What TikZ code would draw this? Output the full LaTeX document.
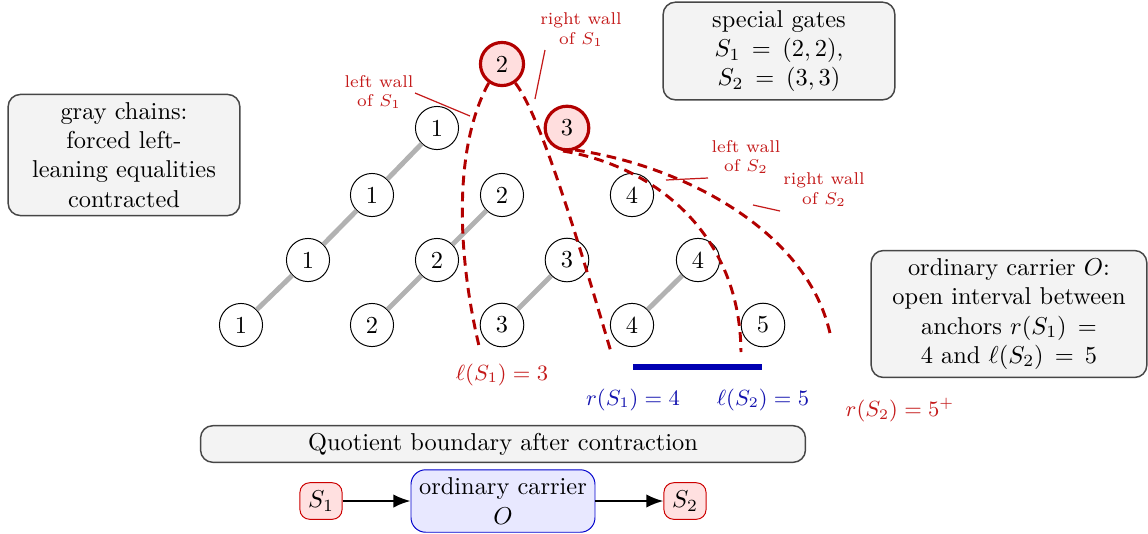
\documentclass[tikz,border=0pt]{standalone}
\usetikzlibrary{arrows.meta}
\definecolor{wallred}{RGB}{178,0,0}
\definecolor{labred}{RGB}{196,26,26}
\definecolor{labblue}{RGB}{20,20,175}
\definecolor{barblue}{RGB}{0,0,178}
\definecolor{boxgray}{RGB}{243,243,243}
\definecolor{boxline}{RGB}{70,70,70}
\begin{document}
\begin{tikzpicture}[x=0.41pt,y=-0.41pt,
  num/.style={circle,draw,fill=white},
  gate/.style={circle,draw=wallred,line width=1.3pt,fill=red!13},
  chain/.style={draw=gray!60,line width=2pt},
  wall/.style={draw=wallred,line width=1.2pt,dash pattern=on 4pt off 2.6pt},
  note/.style={font=\scriptsize,text=labred,align=center,inner sep=1pt},
  noteline/.style={draw=labred,line width=0.5pt},
  infobox/.style={draw=boxline,fill=boxgray,rounded corners=5pt,align=center,line width=0.6pt,inner xsep=7.5pt,inner ysep=3.3pt},
  redlab/.style={font=\small,text=labred},
  bluelab/.style={font=\small,text=labblue},
  flow/.style={draw=black,line width=0.9pt,-{Latex[length=7pt,width=5.5pt]}}
]
\useasboundingbox (0,0) rectangle (1148,533);

% circle nodes
\node[num] (b1) at (241,325) {1};
\node[num] (b2) at (372,325) {2};
\node[num] (b3) at (502,325) {3};
\node[num] (b4) at (632,325) {4};
\node[num] (b5) at (763,325) {5};
\node[num] (c1) at (308,260) {1};
\node[num] (c2) at (437,260) {2};
\node[num] (c3) at (567,260) {3};
\node[num] (c4) at (698,260) {4};
\node[num] (d1) at (372,195) {1};
\node[num] (d2) at (502,195) {2};
\node[num] (d4) at (632,195) {4};
\node[num] (e1) at (437,128) {1};
\node[gate] (g2) at (502,64) {2};
\node[gate] (g3) at (567,128) {3};

% gray chains
\draw[chain] (b1) -- (c1);
\draw[chain] (c1) -- (d1);
\draw[chain] (d1) -- (e1);
\draw[chain] (b2) -- (c2);
\draw[chain] (c2) -- (d2);
\draw[chain] (b3) -- (c3);
\draw[chain] (b4) -- (c4);

% wall end points
\coordinate (lw1) at (480,350);
\coordinate (rw1) at (611,352);
\coordinate (lw2) at (741,352);
\coordinate (rw2) at (831,338);

% walls
\draw[wall] (g2.-125) .. controls (452,150) and (458,260) .. (lw1);
\draw[wall] (g2.-55) .. controls (540,115) and (575,230) .. (rw1);
\draw[wall] (g3.-100) .. controls (650,165) and (740,230) .. (lw2);
\draw[wall] (g3.-70) .. controls (680,165) and (810,230) .. (rw2);

% wall annotations
\node[note] (nl1) at (379,92) {left wall\\of $S_1$};
\coordinate (nl1a) at (415,93);
\coordinate (nl1b) at (470,116);
\draw[noteline] (nl1a) -- (nl1b);
\node[note] (nr1) at (581,30) {right wall\\of $S_1$};
\coordinate (nr1a) at (545,50);
\coordinate (nr1b) at (535,99);
\draw[noteline] (nr1a) -- (nr1b);
\node[note] (nl2) at (746,157) {left wall\\of $S_2$};
\coordinate (nl2a) at (666,180);
\coordinate (nl2b) at (708,178);
\draw[noteline] (nl2a) -- (nl2b);
\node[note] (nr2) at (824,190) {right wall\\of $S_2$};
\coordinate (nr2a) at (753,205);
\coordinate (nr2b) at (780,211);
\draw[noteline] (nr2a) -- (nr2b);

% anchor labels
\node[redlab] (l1) at (502,375) {$\ell(S_1) = 3$};
\node[bluelab] (r1) at (633,400) {$r(S_1) = 4$};
\node[bluelab] (l2) at (763,400) {$\ell(S_2) = 5$};
\node[redlab] (r2) at (900,410) {$r(S_2) = 5^{+}$};
\coordinate (bar1) at (633,367);
\coordinate (bar2) at (762,367);
\draw[barblue,line width=2.4pt] (bar1) -- (bar2);

% info boxes
\node[infobox,text width=80pt] (gc) at (124,155)
  {gray chains:\\ forced left-\\ leaning equalities\\ contracted};
\node[infobox,text width=80pt] (sg) at (779,51)
  {special gates\\ $S_1 = (2,2)$,\\ $S_2 = (3,3)$};
\node[infobox,text width=98pt] (oc) at (1009,314)
  {ordinary carrier $O$:\\ open interval between\\ anchors $r(S_1) =$\\ $4$ and $\ell(S_2) = 5$};

% quotient boundary
\node[infobox,minimum width=248pt,minimum height=15pt,inner ysep=2pt] (qb) at (503,444)
  {Quotient boundary after contraction};
\node[draw=red!80!black,fill=red!12,rounded corners=4pt] (s1) at (321,501) {$S_1$};
\node[draw=blue!80!black,fill=blue!9,rounded corners=6pt,align=center] (oo) at (503,501)
  {ordinary carrier\\ $O$};
\node[draw=red!80!black,fill=red!12,rounded corners=4pt] (s2) at (685,501) {$S_2$};
\draw[flow] (s1) -- (oo);
\draw[flow] (oo) -- (s2);
\end{tikzpicture}
\end{document}
